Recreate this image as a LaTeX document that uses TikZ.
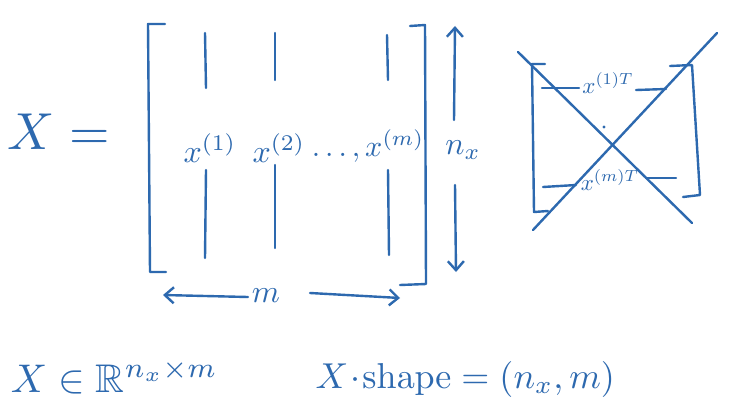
\documentclass[tikz,border=0pt]{standalone}
\usepackage{amssymb}
\usetikzlibrary{arrows.meta}
\definecolor{pen}{RGB}{45,105,175}
\begin{document}
\begin{tikzpicture}[x=1pt,y=-1pt,
  ink/.style={draw=pen,line width=2.4pt,line cap=round,line join=round},
  arr/.style={ink,-{Straight Barb[length=9pt,width=16pt]}},
  lbl/.style={text=pen,inner sep=0pt,transform shape},
  big/.style={lbl,scale=5.2},
  mid/.style={lbl,scale=3.2},
  sml/.style={lbl,scale=2.3}]
\useasboundingbox (0,0) rectangle (738,412);
\fill[white] (0,0) rectangle (738,412);
% X =
\node[big] (Xeq) at (59,132) {$X=$};
% matrix brackets
\draw[ink] (165,24) -- (148,24) -- (150,272) -- (166,272);
\draw[ink] (410,26) -- (425,25) -- (426,284) -- (400,285);
% columns
\draw[ink] (205,33) -- (206,88);
\draw[ink] (206,170) -- (205,258);
\draw[ink] (275,33) -- (275,80);
\draw[ink] (275,165) -- (275,248);
\draw[ink] (387,35) -- (388,80);
\draw[ink] (388,170) -- (389,255);
\node[mid] (c1) at (210,148) {$x^{(1)}$};
\node[mid] (c2) at (279,148) {$x^{(2)}$};
\node[mid,scale=0.94] (c3) at (368,146) {$\ldots,x^{(m)}$};
% n_x arrow
\node[mid] (nx) at (463,150) {$n_x$};
\coordinate (nxt) at (455,26);
\coordinate (nxb) at (456,272);
\draw[arr] (454,120) -- (nxt);
\draw[arr] (455,185) -- (nxb);
% m arrow
\node[mid] (mm) at (266,296) {$m$};
\coordinate (ml) at (163,295);
\coordinate (mr) at (400,298);
\draw[arr] (248,297) -- (ml);
\draw[arr] (310,293) -- (mr);
% crossed-out box
\draw[ink] (545,64) -- (532,64) -- (534,212) -- (548,211);
\draw[ink] (670,66) -- (692,65) -- (700,195) -- (683,197);
\draw[ink] (542,88) -- (579,88);
\draw[ink] (636,90) -- (666,89);
\node[sml] (r1) at (608,83) {$x^{(1)T}$};
\fill[pen] (604,127) circle (1.6);
\draw[ink] (543,187) -- (576,185);
\draw[ink] (646,178) -- (676,178);
\node[sml] (rm) at (610,180) {$x^{(m)T}$};
\draw[ink] (518,52) -- (692,223);
\draw[ink] (533,230) -- (717,33);
% bottom
\node[lbl,scale=4.0,anchor=base west] (inR) at (10,392) {$X\in\mathbb{R}^{n_x\times m}$};
\node[lbl,scale=3.6,anchor=base west] (shape) at (315,388) {$X\!\cdot\!\mathrm{shape}=(n_x,m)$};
\end{tikzpicture}
\end{document}
